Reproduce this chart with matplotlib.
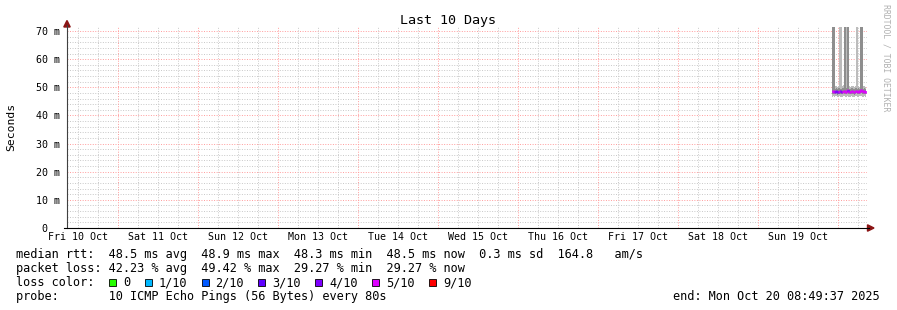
import numpy as np
import pandas as pd
import matplotlib
matplotlib.use('Agg')
import matplotlib.pyplot as plt
import matplotlib.dates as mdates
from matplotlib.patches import Rectangle, Polygon
from matplotlib.lines import Line2D

W, H = 897, 310
MONO = 'DejaVu Sans Mono'

# time window of the graph
start = pd.Timestamp('2025-10-10 08:49:37')
end = pd.Timestamp('2025-10-20 08:49:37')

# samples (one consolidated row every 18 min at this zoom)
times = pd.date_range('2025-10-19 22:20', periods=35, freq='18min')
median = [48.7, 48.5, 48.6, 48.4, 48.6, 48.3, 48.5, 48.8, 48.6, 48.4, 48.5, 48.7,
          48.6, 48.4, 48.5, 48.9, 48.6, 48.5, 48.3, 48.6, 48.7, 48.5, 48.4, 48.6,
          48.8, 48.5, 48.6, 48.4, 49.0, 49.2, 48.7, 48.5, 48.6, 48.4, 48.5]
loss = [5, 5, 5, 4, 4, 4, 4, 5, 4, 4, 5, 5, 5, 5, 5, 5, 4, 5, 5, 5, 5, 5, 5, 5,
        5, 5, 5, 5, 5, 5, 5, 5, 5, 5, 5]
ping_min = [46.6, 46.9, 46.5, 46.8, 47.0, 46.4, 46.6, 46.9, 46.7, 46.5, 46.6, 47.0,
            46.8, 46.4, 46.6, 46.9, 46.7, 46.5, 46.6, 46.9, 46.7, 46.6, 46.4, 46.8,
            46.9, 46.6, 46.5, 46.8, 47.0, 46.9, 46.6, 46.5, 46.8, 46.6, 46.9]
ping_q1 = [47.6, 47.7, 47.5, 47.6, 47.8, 47.4, 47.6, 47.7, 47.6, 47.5, 47.6, 47.8,
           47.7, 47.5, 47.6, 47.8, 47.7, 47.5, 47.6, 47.7, 47.6, 47.6, 47.4, 47.7,
           47.8, 47.6, 47.5, 47.6, 47.9, 48.0, 47.6, 47.5, 47.7, 47.6, 47.7]
ping_q3 = [80.0, 80.0, 80.0, 49.5, 49.7, 49.4, 49.6, 49.8, 49.5, 49.4, 49.6, 49.7,
           80.0, 80.0, 49.8, 80.0, 80.0, 49.5, 49.4, 49.7, 49.6, 49.5, 49.4, 49.6,
           49.8, 49.5, 49.6, 49.4, 80.0, 80.0, 80.0, 49.5, 49.6, 49.4, 49.5]
ping_max = [80.0, 80.0, 80.0, 50.4, 50.6, 50.2, 50.5, 80.0, 80.0, 80.0, 50.4, 50.7,
            80.0, 80.0, 80.0, 80.0, 80.0, 50.3, 50.2, 50.6, 50.5, 50.4, 50.1, 50.5,
            80.0, 80.0, 50.4, 50.2, 80.0, 80.0, 80.0, 50.3, 50.5, 50.2, 50.4]

loss_labels = ['0', '1/10', '2/10', '3/10', '4/10', '5/10', '9/10']
loss_colors = ['#26ff00', '#00b8ff', '#0059ff', '#5e00ff', '#7e00ff', '#dd00ff', '#ff0000']
loss_color_of = {0: '#26ff00', 1: '#00b8ff', 2: '#0059ff', 3: '#5e00ff',
                 4: '#7e00ff', 5: '#dd00ff', 9: '#ff0000'}

legend_lines = [
    'median rtt:  48.5 ms avg  48.9 ms max  48.3 ms min  48.5 ms now  0.3 ms sd  164.8   am/s',
    'packet loss: 42.23 % avg  49.42 % max  29.27 % min  29.27 % now',
]
probe_line = 'probe:       10 ICMP Echo Pings (56 Bytes) every 80s'
end_line = 'end: Mon Oct 20 08:49:37 2025'


def fx(x):
    return x / W


def fy(y):
    return 1 - y / H


fig = plt.figure(figsize=(W / 100, H / 100), dpi=100)
fig.patch.set_facecolor('white')
ax = fig.add_axes([fx(67), fy(228), 800 / W, (228 - 26.5) / H])
ax.set_xlim(mdates.date2num(start), mdates.date2num(end))
ax.set_ylim(0, 71.6)
for s in ax.spines.values():
    s.set_visible(False)

# grid
dot = (0, (1, 1.6))
for v in range(2, 72, 2):
    if v % 10:
        ax.axhline(v, color='#c8c8c8', lw=0.7, ls=dot, zorder=0)
    else:
        ax.axhline(v, color='#ff9c9c', lw=0.7, ls=dot, zorder=0)
t = pd.Timestamp('2025-10-10 12:00')
while t < end:
    c = '#ff9c9c' if t.hour == 0 else '#c8c8c8'
    ax.axvline(mdates.date2num(t), color=c, lw=0.7, ls=dot, zorder=0)
    t += pd.Timedelta(hours=6)

# smoke
tn = mdates.date2num(times)
ax.fill_between(tn, ping_min, ping_max, step='mid', color='#bcbcbc', lw=0, zorder=2)
ax.fill_between(tn, ping_q1, ping_q3, step='mid', color='#8e8e8e', lw=0, zorder=3)

# median line coloured by loss
half = 9 / (24 * 60)
cols = [loss_color_of[l] for l in loss]
ax.hlines(median, tn - half, tn + half, colors=cols, lw=2.0, zorder=4)
for i in range(1, len(median)):
    ax.vlines(tn[i] - half, median[i - 1], median[i], colors=cols[i], lw=2.0, zorder=4)

# ticks
yt = list(range(0, 71, 10))
ax.set_yticks(yt, ['0  '] + ['%d m' % v for v in yt[1:]])
noons = [mdates.date2num(pd.Timestamp('2025-10-%02d 12:00' % d)) for d in range(10, 20)]
ax.set_xticks(noons, [pd.Timestamp('2025-10-%02d' % d).strftime('%a %d Oct') for d in range(10, 20)])
ax.tick_params(axis='both', length=0, labelsize=7.2, colors='black')
ax.tick_params(axis='y', pad=5)
ax.tick_params(axis='x', pad=3)
for lab in ax.get_xticklabels() + ax.get_yticklabels():
    lab.set_family(MONO)

# axis lines and arrows
fig.add_artist(Line2D([fx(67), fx(67)], [fy(228), fy(25)], color='#404040', lw=0.8))
fig.add_artist(Line2D([fx(64), fx(869)], [fy(228), fy(228)], color='black', lw=0.8))
fig.add_artist(Polygon([(fx(67), fy(20.5)), (fx(63.8), fy(27)), (fx(70.2), fy(27))],
                       closed=True, color='#8b1414', transform=fig.transFigure))
fig.add_artist(Polygon([(fx(874), fy(228)), (fx(867.5), fy(224.8)), (fx(867.5), fy(231.2))],
                       closed=True, color='#8b1414', transform=fig.transFigure))

# titles
fig.text(fx(448), fy(24), 'Last 10 Days', family=MONO, fontsize=9.6, ha='center', va='baseline')
fig.text(fx(11), fy(127), 'Seconds', family=MONO, fontsize=8.2, rotation=90,
         ha='center', va='center')
fig.text(fx(886), fy(4), 'RRDTOOL / TOBI OETIKER', family=MONO, fontsize=5.9,
         rotation=270, ha='center', va='top', color='#b0b0b0')

# legend
fs = 8.55
cw = 7.1
fig.text(fx(16), fy(258.3), legend_lines[0], family=MONO, fontsize=fs, va='baseline')
fig.text(fx(16), fy(272.3), legend_lines[1], family=MONO, fontsize=fs, va='baseline')
fig.text(fx(16), fy(286.3), 'loss color:', family=MONO, fontsize=fs, va='baseline')
x = 109.0
for lab, col in zip(loss_labels, loss_colors):
    fig.add_artist(Rectangle((fx(x), fy(286)), 7 / W, 7.5 / H, facecolor=col,
                             edgecolor='black', lw=0.6, transform=fig.transFigure))
    tx = x + 14.0
    fig.text(fx(tx), fy(286.3), lab, family=MONO, fontsize=fs, va='baseline')
    x = tx + len(lab) * cw + 14.5
fig.text(fx(16), fy(300.3), probe_line, family=MONO, fontsize=fs, va='baseline')
fig.text(fx(880), fy(300.3), end_line, family=MONO, fontsize=fs, va='baseline', ha='right')

fig.savefig('out.png', dpi=100)
